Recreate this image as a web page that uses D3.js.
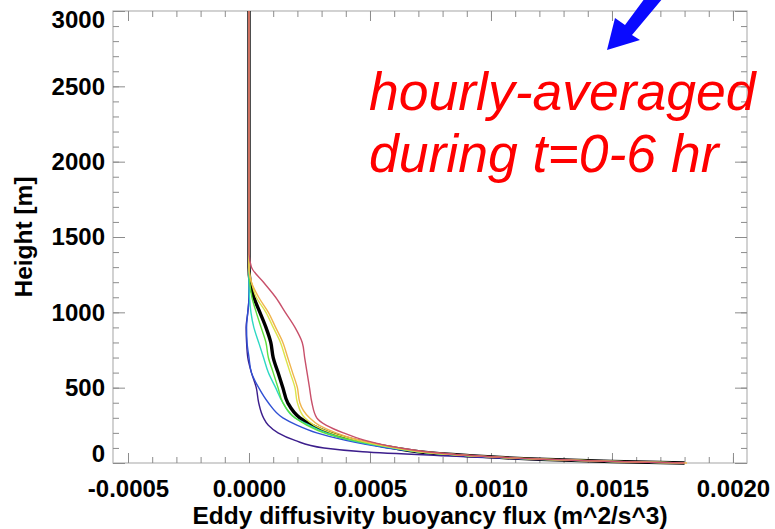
<!DOCTYPE html>
<html>
<head>
<meta charset="utf-8">
<script src="https://cdn.jsdelivr.net/npm/d3@7"></script>
<style>
  body { margin: 0; background: #fff; }
  svg { display: block; }
  .tick-label { font-family: "Liberation Sans", Arial, sans-serif; font-weight: bold; font-size: 24px; fill: #000; }
  .axis-title { font-family: "Liberation Sans", Arial, sans-serif; font-weight: bold; font-size: 24.5px; fill: #000; }
  .note { font-family: "Liberation Sans", Arial, sans-serif; font-style: italic; font-size: 53.5px; fill: #ff0000; }
</style>
</head>
<body>
<svg id="chart" width="775" height="529"></svg>
<script>
// 高度 [m] (全系列共通)
var heights = [0, 10, 25, 50, 75, 100, 150, 200, 250, 300, 400, 500, 600, 700, 800, 900, 1000, 1100, 1200, 1300, 1400, 1500, 2000, 2500, 3000];

// 1時間平均のフラックス (m^2/s^3)
var fluxPurple = [0.00176, 0.0015, 0.00115, 0.00078, 0.00047, 0.00031, 0.00019, 0.00012, 0.00008, 0.00006, 0.00004, 0.00003, 0.00001, -0.000005, -0.00001, -0.000012, -0.000005, 0, 0, 0, 0, 0, 0, 0, 0];
var fluxBlue   = [0.0018, 0.0015, 0.0012, 0.00088, 0.00069, 0.00057, 0.0004, 0.00028, 0.0002, 0.00014, 0.00008, 0.00004, 0.00001, 0, -0.000008, -0.00001, -0.000005, 0, 0, 0, 0, 0, 0, 0, 0];
var fluxCyan   = [0.0018, 0.0015, 0.0012, 0.0009, 0.0007, 0.00059, 0.00042, 0.00032, 0.00025, 0.00019, 0.00014, 0.00011, 0.00008, 0.00006, 0.00004, 0.00002, 0.000008, 0.000002, 0, 0, 0, 0, 0, 0, 0];
var fluxGreen  = [0.0018, 0.0015, 0.0012, 0.0009, 0.0007, 0.0006, 0.00043, 0.00031, 0.00024, 0.00019, 0.00014, 0.00012, 0.0001, 0.00008, 0.00007, 0.00005, 0.00003, 0.000012, 0.000003, 0, 0, 0, 0, 0, 0];
var fluxYellow = [0.0018, 0.0015, 0.0012, 0.0009, 0.0007, 0.0006, 0.00045, 0.00034, 0.00027, 0.00023, 0.0002, 0.00019, 0.00017, 0.00015, 0.00013, 0.0001, 0.00007, 0.00003, 0.00001, 0, 0, 0, 0, 0, 0];
var fluxOrange = [0.00181, 0.00152, 0.00122, 0.00091, 0.00072, 0.00062, 0.00046, 0.00036, 0.00029, 0.00025, 0.00021, 0.0002, 0.00018, 0.00016, 0.00014, 0.00011, 0.00008, 0.00004, 0.00001, 0, 0, 0, 0, 0, 0];
var fluxRed    = [0.0018, 0.0015, 0.00122, 0.00092, 0.00073, 0.00062, 0.00048, 0.00039, 0.00032, 0.00028, 0.00026, 0.00025, 0.00024, 0.00023, 0.00022, 0.00019, 0.00015, 0.00011, 0.00006, 0.00001, 0, 0, 0, 0, 0];
// 平均 (太線)
var fluxMean   = [0.0018, 0.0015, 0.0012, 0.0009, 0.0007, 0.0006, 0.00044, 0.00033, 0.00026, 0.00021, 0.00016, 0.00014, 0.00012, 0.0001, 0.00009, 0.00007, 0.000045, 0.00002, 0.000005, 0, 0, 0, 0, 0, 0];

// 目盛ラベル
var xTickValues = [-0.0005, 0.0, 0.0005, 0.0010, 0.0015, 0.0020];
var xTickLabels = ["-0.0005", "0.0000", "0.0005", "0.0010", "0.0015", "0.0020"];
var yTickValues = [0, 500, 1000, 1500, 2000, 2500, 3000];
var yTickLabels = ["0", "500", "1000", "1500", "2000", "2500", "3000"];

var svg = d3.select("#chart");

var plotLeft = 113, plotRight = 747, plotTop = 11, plotBottom = 463;

var xScale = d3.scaleLinear()
    .domain([-0.000562, 0.002058])
    .range([plotLeft, plotRight]);

var yScale = d3.scaleLinear()
    .domain([0, 3000])
    .range([plotBottom, plotTop]);

// 枠
svg.append("rect")
    .attr("x", plotLeft).attr("y", plotTop)
    .attr("width", plotRight - plotLeft).attr("height", plotBottom - plotTop)
    .attr("fill", "none").attr("stroke", "#b4b4b4").attr("stroke-width", 1.2);

// 目盛 (内向き)
var xMinor = d3.range(-0.0005, 0.00201, 0.0001);
var yMinor = d3.range(0, 3001, 100);

function tickAxis(axisFn, scale, values, size, y, x) {
    var g = svg.append("g")
        .attr("transform", "translate(" + x + "," + y + ")")
        .call(axisFn(scale).tickValues(values).tickSize(size).tickFormat(""));
    g.select(".domain").remove();
    g.selectAll("line").attr("stroke", "#8c8c8c").attr("stroke-width", 1);
}
tickAxis(d3.axisBottom, xScale, xMinor, -6, plotBottom, 0);
tickAxis(d3.axisBottom, xScale, xTickValues, -10, plotBottom, 0);
tickAxis(d3.axisTop, xScale, xMinor, -6, plotTop, 0);
tickAxis(d3.axisTop, xScale, xTickValues, -10, plotTop, 0);
tickAxis(d3.axisLeft, yScale, yMinor, -6, 0, plotLeft);
tickAxis(d3.axisLeft, yScale, yTickValues, -12, 0, plotLeft);
tickAxis(d3.axisRight, yScale, yMinor, -6, 0, plotRight);
tickAxis(d3.axisRight, yScale, yTickValues, -12, 0, plotRight);

// 目盛ラベル
var xLab = svg.append("g")
    .attr("transform", "translate(0," + plotBottom + ")")
    .call(d3.axisBottom(xScale).tickValues(xTickValues).tickSize(0).tickPadding(17)
        .tickFormat(function(d, i){ return xTickLabels[i]; }));
xLab.select(".domain").remove();
xLab.selectAll("text").attr("class", "tick-label").attr("font-size", null).attr("font-family", null);

var yLab = svg.append("g")
    .attr("transform", "translate(" + plotLeft + ",0)")
    .call(d3.axisLeft(yScale).tickValues(yTickValues).tickSize(0).tickPadding(8)
        .tickFormat(function(d, i){ return yTickLabels[i]; }));
yLab.select(".domain").remove();
yLab.selectAll("text").attr("class", "tick-label").attr("font-size", null).attr("font-family", null)
    .attr("dy", function(d){
        if (d === 0) return "-0.05em";      // 下端ラベルは枠の内側に寄せる
        if (d === 3000) return "0.67em";   // 上端ラベルも同様
        return "0.32em";
    });

// 軸タイトル
svg.append("text")
    .attr("class", "axis-title")
    .attr("x", (plotLeft + plotRight) / 2)
    .attr("y", 524)
    .attr("text-anchor", "middle")
    .text("Eddy diffusivity buoyancy flux (m^2/s^3)");

svg.append("text")
    .attr("class", "axis-title")
    .attr("transform", "translate(32,237) rotate(-90)")
    .attr("text-anchor", "middle")
    .text("Height [m]");

// プロファイル (平均の太線を先に描き、上に各時間の線を重ねる)
var series = [
    { values: fluxMean,   color: "#000000", width: 3.4 },
    { values: fluxPurple, color: "#3c1e8c", width: 1.4 },
    { values: fluxBlue,   color: "#3050d4", width: 1.4 },
    { values: fluxCyan,   color: "#2ed8c4", width: 1.4 },
    { values: fluxGreen,  color: "#5ee03c", width: 1.4 },
    { values: fluxYellow, color: "#dce44a", width: 1.4 },
    { values: fluxOrange, color: "#f0b44c", width: 1.4 },
    { values: fluxRed,    color: "#c8506a", width: 1.4 }
];

var line = d3.line()
    .x(function(d){ return xScale(d[0]); })
    .y(function(d){ return yScale(d[1]); })
    .curve(d3.curveMonotoneY);

series.forEach(function(s){
    var pts = heights.map(function(h, i){ return [s.values[i], h]; });
    svg.append("path")
        .attr("d", line(pts))
        .attr("fill", "none")
        .attr("stroke", s.color)
        .attr("stroke-width", s.width)
        .attr("stroke-linejoin", "round");
});

// 注釈
svg.append("text").attr("class", "note").attr("x", 369).attr("y", 110).text("hourly-averaged");
svg.append("text").attr("class", "note").attr("x", 369).attr("y", 172).text("during t=0-6 hr");

// 青い矢印
svg.append("path")
    .attr("d", "M645,-2 L663,-2 L632,35 L640,40 L607,50 L615,18 L625,25 Z")
    .attr("fill", "#0a0aff");
</script>
</body>
</html>
